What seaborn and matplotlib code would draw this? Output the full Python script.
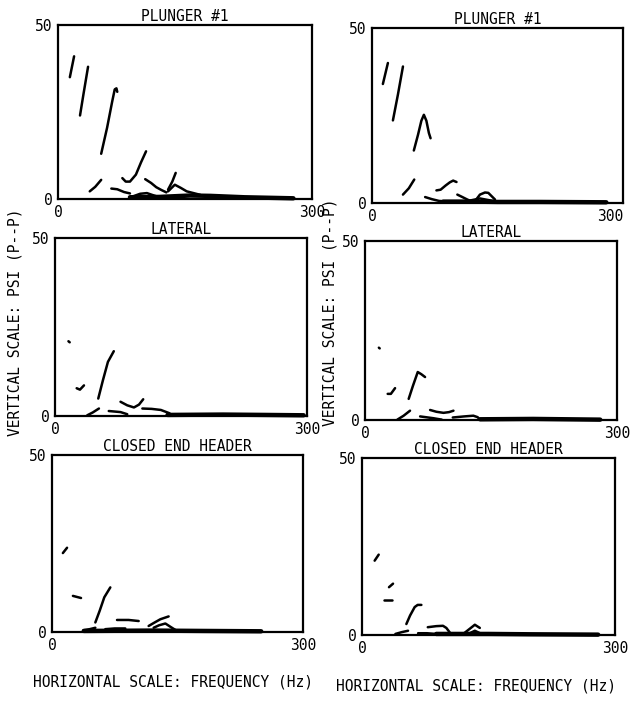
import pandas as pd
import matplotlib
matplotlib.use("Agg")
import matplotlib.pyplot as plt
import seaborn as sns

titles = ["PLUNGER #1", "PLUNGER #1", "LATERAL", "LATERAL",
          "CLOSED END HEADER", "CLOSED END HEADER"]
x_ticks = [0, 300]
y_ticks = [0, 50]

# traces: (frequency Hz, psi p-p)
plunger_left = [
    [(14, 35), (19, 41)],
    [(26, 24), (30, 30), (35.5, 38)],
    [(51, 13), (58, 20.5), (64, 28), (67, 31.5), (69, 31.8), (70, 30.8)],
    [(37.5, 2.2), (44, 3.5), (51, 5.5)],
    [(63, 3), (70, 2.8), (78, 2), (85, 1.6)],
    [(76, 6), (80, 5), (85, 5), (92, 7), (98, 10.5), (104, 13.7)],
    [(103, 5.7), (110, 4.6), (116, 3.4), (122, 2.6), (128, 1.9)],
    [(130, 2.7), (135, 5), (139, 7.5)],
    [(130, 2.2), (138, 4.1), (145, 3.2), (152, 2.2), (168, 1.2)],
    [(89, 0.8), (97, 1.5), (105, 1.7), (111, 1.2), (116, 0.8)],
]
plunger_left_floor = [(85, 0.5), (120, 0.6), (156, 1.0), (180, 0.9), (220, 0.5), (278, 0.2)]

plunger_right = [
    [(13, 34), (16, 37), (19, 40)],
    [(25, 23.6), (31, 31), (37, 39)],
    [(50, 15), (55, 19.5), (59, 23.5), (62, 25.2), (65, 23.5), (68, 20), (70, 18.5)],
    [(37, 2.4), (44, 4.2), (50.5, 6.7)],
    [(63.5, 1.7), (71.5, 1.1), (80, 0.6), (85, 0.5)],
    [(77, 3.6), (82, 3.8), (88, 5), (93, 5.9), (97, 6.4), (101, 6.0)],
    [(102, 2.4), (108, 1.7), (113, 1.1), (121, 0.2)],
    [(123, 0.5), (129, 2.4), (135, 3), (139, 2.9), (147, 1)],
    [(115, 0.6), (129, 1.3), (140, 0.8), (150, 0.4)],
]
plunger_right_floor = [(85, 0.4), (120, 0.4), (150, 0.3), (200, 0.3), (280, 0.2)]

lateral_left = [
    [(16, 21), (17.5, 20.7)],
    [(25.8, 7.8), (29.7, 7.4), (34.5, 8.6)],
    [(51.5, 4.9), (57, 10), (63, 15.2), (70, 18.2)],
    [(38.4, 0.2), (45, 1), (52.3, 2.1)],
    [(64, 1.4), (78, 1.1), (86, 0.5)],
    [(78, 4), (86, 3), (94, 2.4), (100, 3.2), (105, 4.7)],
    [(104, 2.1), (115, 2), (126, 1.7), (136, 0.8), (139.5, 0.1)],
]
lateral_left_floor = [(134, 0.3), (200, 0.4), (250, 0.3), (296, 0.2)]

lateral_right = [
    [(16.5, 20.2), (17.5, 20)],
    [(27, 7.3), (30.8, 7.3), (35.8, 8.9)],
    [(52, 5.9), (57, 9.5), (62.8, 13.4), (67, 12.8), (71.5, 12)],
    [(38.5, 0.1), (46, 1.2), (53.6, 2.6)],
    [(65.6, 1), (81.4, 0.5), (91.4, 0.1)],
    [(77.5, 2.8), (85, 2.3), (93.4, 2), (100, 2.2), (105.3, 2.6)],
    [(104.5, 0.7), (118, 1), (129, 1.2), (134, 0.8), (137, 0.1)],
]
lateral_right_floor = [(137, 0.2), (200, 0.3), (280, 0.1)]

closed_left = [
    [(13, 22.3), (18, 23.8)],
    [(25, 10.2), (34.7, 9.6)],
    [(51.8, 2.7), (57, 6), (62.5, 9.8), (69.7, 12.6)],
    [(37.8, 0.5), (45, 0.8), (51.8, 1.2)],
    [(63.7, 0.8), (75, 1), (87.6, 1)],
    [(77.7, 3.4), (91.6, 3.4), (103.6, 3.1)],
    [(115.5, 1.7), (122, 2.6), (129.5, 3.6), (139.4, 4.4)],
    [(121.5, 1.2), (128, 1.9), (135.5, 2.4), (142, 1.4), (149.4, 0.3)],
]
closed_left_floor = [(38, 0.3), (120, 0.4), (180, 0.3), (250, 0.2)]

closed_right = [
    [(15, 21), (19.8, 22.7)],
    [(32, 13.5), (36.8, 14.5)],
    [(26, 9.75), (36, 9.75)],
    [(52.6, 3.1), (57, 5.5), (62.5, 7.9), (66, 8.5), (70.4, 8.5)],
    [(39.6, 0.3), (47, 0.8), (54.6, 1.2)],
    [(66.5, 0.5), (77, 0.5), (88, 0.3)],
    [(78, 2.2), (88, 2.5), (96, 2.6), (100, 2), (104, 0.75)],
    [(120, 0.3), (128, 1.8), (133.8, 2.9), (139.7, 2)],
    [(127.8, 0.5), (133.8, 1.2), (141.7, 0.3)],
]
closed_right_floor = [(88, 0.3), (150, 0.3), (200, 0.2), (280, 0.1)]

panels = [
    (plunger_left, plunger_left_floor),
    (plunger_right, plunger_right_floor),
    (lateral_left, lateral_left_floor),
    (lateral_right, lateral_right_floor),
    (closed_left, closed_left_floor),
    (closed_right, closed_right_floor),
]

# axes boxes in pixels: left, top, right, bottom
boxes = [
    (58, 25, 312, 199), (372, 28, 623, 203),
    (55, 238, 307, 416), (365, 241, 617, 420),
    (52, 455, 303, 632), (362, 458, 615, 635),
]

W, H = 631, 705


def to_frame(traces):
    rows = []
    for i, tr in enumerate(traces):
        for f, p in tr:
            rows.append({"trace": i, "freq": f, "psi": p})
    return pd.DataFrame(rows)


sns.set_style("white")
plt.rcParams['font.family'] = ['DejaVu Sans Mono', 'DejaVu Sans']
plt.rcParams['text.color'] = 'black'
plt.rcParams['xtick.color'] = 'black'
plt.rcParams['ytick.color'] = 'black'

fig = plt.figure(figsize=(W / 100, H / 100), dpi=100)

for k, ((traces, floor), box, title) in enumerate(zip(panels, boxes, titles)):
    l, t, r, b = box
    ax = fig.add_axes([l / W, 1 - b / H, (r - l) / W, (b - t) / H])
    df = to_frame(traces)
    sns.lineplot(data=df, x="freq", y="psi", units="trace", estimator=None,
                 sort=False, color="black", lw=1.8, ax=ax, legend=False)
    fl = pd.DataFrame(floor, columns=["freq", "psi"])
    sns.lineplot(data=fl, x="freq", y="psi", sort=False, color="black",
                 lw=3.2, ax=ax, legend=False)
    for line in ax.lines:
        line.set_clip_on(False)
        line.set_solid_capstyle("round")
    ax.set_xlim(0, 300)
    ax.set_ylim(0, 50)
    ax.set_xticks(x_ticks)
    ax.set_yticks(y_ticks)
    ax.set_xticklabels([str(v) for v in x_ticks])
    ax.set_yticklabels([str(v) for v in y_ticks])
    ax.tick_params(length=0, labelsize=10.5, pad=4)
    if k == 1:
        # right edge of the sheet, keep the label inside
        ax.get_xticklabels()[-1].set_horizontalalignment("right")
    ax.set_xlabel("")
    ax.set_ylabel("")
    for s in ax.spines.values():
        s.set_visible(True)
        s.set_color("black")
        s.set_linewidth(1.6)
    ax.set_title(title, fontsize=10.5, pad=3)

fig.text(15 / W, 1 - 322 / H, "VERTICAL SCALE: PSI (P--P)", rotation=90,
         ha="center", va="center", fontsize=10.5)
fig.text(330 / W, 1 - 312 / H, "VERTICAL SCALE: PSI (P--P)", rotation=90,
         ha="center", va="center", fontsize=10.5)
fig.text(173 / W, 1 - 682 / H, "HORIZONTAL SCALE: FREQUENCY (Hz)",
         ha="center", va="center", fontsize=10.5)
fig.text(476 / W, 1 - 686 / H, "HORIZONTAL SCALE: FREQUENCY (Hz)",
         ha="center", va="center", fontsize=10.5)

fig.savefig("out.png", dpi=100, facecolor="white")
